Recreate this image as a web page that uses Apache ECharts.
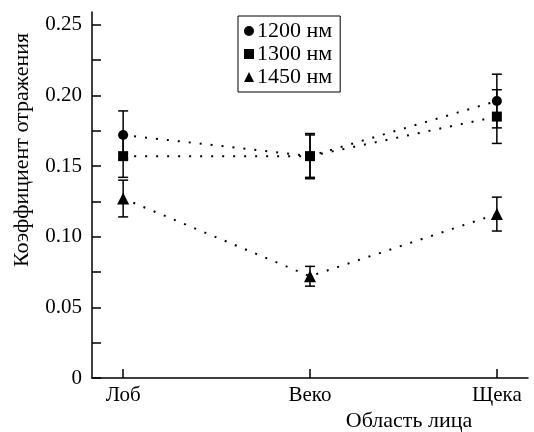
<!DOCTYPE html>
<html>
<head>
<meta charset="utf-8">
<script src="https://cdn.jsdelivr.net/npm/echarts@6/dist/echarts.min.js"></script>
<style>
  html, body { margin: 0; padding: 0; background: #fff; }
  #chart { width: 534px; height: 432px; }
</style>
</head>
<body>
<div id="chart"></div>
<script>
// Categories (face regions) and tick values
const categories = ['Лоб', 'Веко', 'Щека'];
const yTickValues = [0, 0.025, 0.05, 0.075, 0.1, 0.125, 0.15, 0.175, 0.2, 0.225, 0.25];
const yLabelValues = [0, 0.05, 0.1, 0.15, 0.2, 0.25];

// Series names
const seriesNames = ['1200 нм', '1300 нм', '1450 нм'];

// Mean reflection values
const values1200 = [0.172, 0.157, 0.196];
const values1300 = [0.157, 0.157, 0.185];
const values1450 = [0.127, 0.072, 0.116];

// Error (half-width) values
const errors1200 = [0.017, 0.015, 0.019];
const errors1300 = [0.015, 0.016, 0.019];
const errors1450 = [0.013, 0.007, 0.012];

const symbols = ['circle', 'rect', 'triangle'];
const symbolSizes = [10, 10, 12];
const FONT = '"Liberation Serif", "DejaVu Serif", serif';

const chart = echarts.init(document.getElementById('chart'));

function pointData(values) {
    return values.map((v, i) => [i, v]);
}

function errorData(values, errors) {
    return values.map((v, i) => [i, v - errors[i], v + errors[i]]);
}

// Error bar drawing with small caps
function renderErrorBar(params, api) {
    const x = api.value(0);
    const low = api.coord([x, api.value(1)]);
    const high = api.coord([x, api.value(2)]);
    const capHalf = 5;
    const style = { stroke: '#000', lineWidth: 1.5, fill: null };
    return {
        type: 'group',
        children: [
            { type: 'line', shape: { x1: high[0], y1: high[1], x2: low[0], y2: low[1] }, style: style },
            { type: 'line', shape: { x1: high[0] - capHalf, y1: high[1], x2: high[0] + capHalf, y2: high[1] }, style: style },
            { type: 'line', shape: { x1: low[0] - capHalf, y1: low[1], x2: low[0] + capHalf, y2: low[1] }, style: style }
        ]
    };
}

const allValues = [values1200, values1300, values1450];
const allErrors = [errors1200, errors1300, errors1450];

const series = [];
allValues.forEach((vals, k) => {
    series.push({
        type: 'custom',
        name: seriesNames[k] + ' err',
        renderItem: renderErrorBar,
        data: errorData(vals, allErrors[k]),
        z: 1,
        silent: true
    });
});
allValues.forEach((vals, k) => {
    series.push({
        type: 'line',
        name: seriesNames[k],
        data: pointData(vals),
        symbol: symbols[k],
        symbolSize: symbolSizes[k],
        showAllSymbol: true,
        itemStyle: { color: '#000' },
        lineStyle: { color: '#000', width: 2, type: [2, 9] },
        z: 3
    });
});

const option = {
    backgroundColor: '#fff',
    animation: false,
    grid: { left: 92, right: 6, top: 12, bottom: 54 },
    legend: {
        orient: 'vertical',
        left: 238,
        top: 16,
        data: seriesNames.map((n, k) => ({ name: n, icon: symbols[k] })),
        itemWidth: 10,
        itemHeight: 10,
        itemGap: 1,
        padding: [4, 8, 4, 6],
        borderColor: '#000',
        borderWidth: 1,
        borderRadius: 0,
        itemStyle: { color: '#000' },
        textStyle: { fontFamily: FONT, fontSize: 22, color: '#000', lineHeight: 22, padding: [0, 0, 0, -2] }
    },
    xAxis: {
        type: 'value',
        min: -1 / 6,
        max: 2 + 1 / 6,
        axisLine: { show: true, onZero: false, lineStyle: { color: '#000', width: 1.5 } },
        axisTick: { show: true, inside: true, length: 9, customValues: [0, 1, 2], lineStyle: { color: '#000', width: 1.5 } },
        axisLabel: {
            customValues: [0, 1, 2],
            formatter: v => categories[Math.round(v)],
            fontFamily: FONT, fontSize: 21, color: '#000', margin: 7
        },
        splitLine: { show: false }
    },
    yAxis: {
        type: 'value',
        min: 0,
        max: 0.259,
        axisLine: { show: true, onZero: false, lineStyle: { color: '#000', width: 1.5 } },
        axisTick: { show: true, inside: true, length: 9, customValues: yTickValues, lineStyle: { color: '#000', width: 1.5 } },
        axisLabel: {
            customValues: yLabelValues,
            formatter: v => (v === 0 ? '0' : v.toFixed(2)),
            fontFamily: FONT, fontSize: 21, color: '#000', margin: 10
        },
        splitLine: { show: false }
    },
    graphic: [
        {
            type: 'text',
            x: 22,
            y: 150,
            rotation: Math.PI / 2,
            style: {
                text: 'Коэффициент отражения',
                font: '22px ' + FONT,
                fill: '#000',
                textAlign: 'center',
                textVerticalAlign: 'middle'
            }
        },
        {
            type: 'text',
            x: 409,
            y: 421,
            style: {
                text: 'Область лица',
                font: '22px ' + FONT,
                fill: '#000',
                textAlign: 'center',
                textVerticalAlign: 'middle'
            }
        }
    ],
    series: series
};

chart.setOption(option);
</script>
</body>
</html>
